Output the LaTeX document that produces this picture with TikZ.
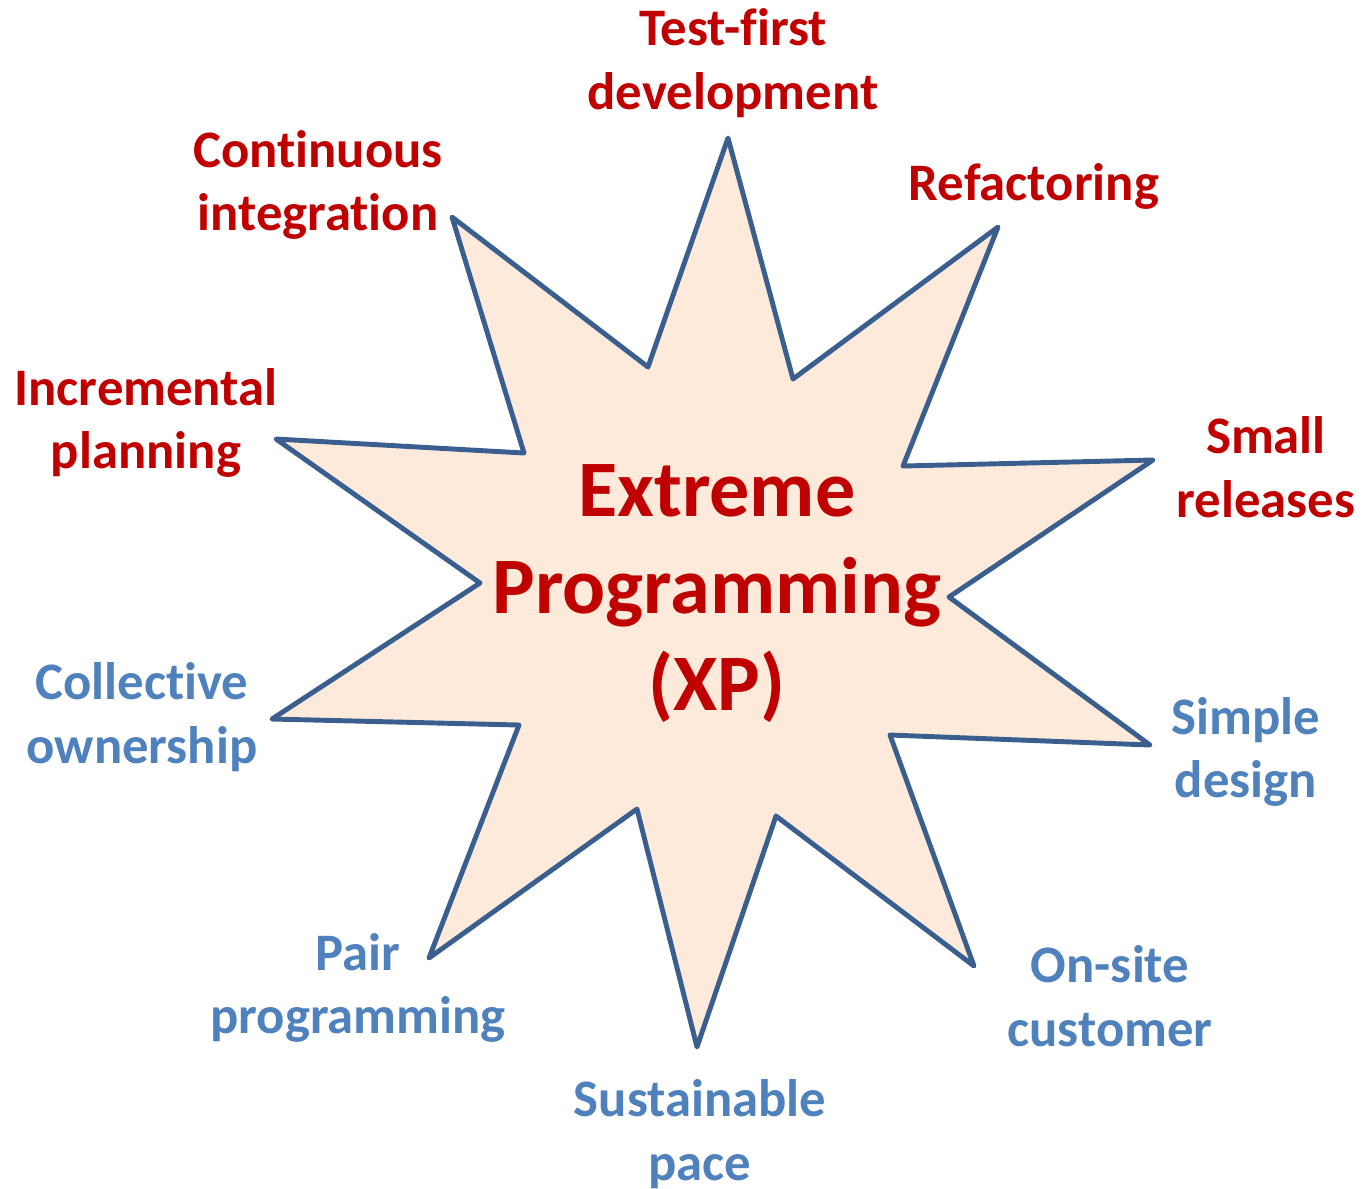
\documentclass[tikz,border=0pt]{standalone}
\usepackage{fontspec}
\setmainfont{Carlito}[Ligatures=NoCommon]
\definecolor{xpred}{HTML}{C00000}
\definecolor{xpblue}{HTML}{4F81BD}
\definecolor{xpline}{HTML}{3A5F8F}
\definecolor{xpfill}{HTML}{FDEADA}
\begin{document}
\begin{tikzpicture}[y=-1cm]
		\tikzset{practice/.style = {align=center,font=\fontsize{15}{18.1}\selectfont\bfseries,inner sep=0pt}}
		\tikzset{core/.style = {practice,text=xpred}}
		\tikzset{extra/.style = {practice,text=xpblue}}
		\useasboundingbox (0,0) rectangle (13.62,11.88);
		\draw[xpline,fill=xpfill,line width=1.4pt,line join=round] (7.28,1.38) -- (7.93,3.79) -- (9.98,2.27) -- (9.03,4.66) -- (11.53,4.60) -- (9.49,5.97) -- (11.50,7.45) -- (8.90,7.35) -- (9.74,9.66) -- (7.76,8.16) -- (6.97,10.47) -- (6.37,8.09) -- (4.29,9.58) -- (5.19,7.25) -- (2.72,7.19) -- (4.80,5.83) -- (2.76,4.39) -- (5.24,4.53) -- (4.52,2.17) -- (6.48,3.67) -- cycle;
		\node[align=center,font=\fontsize{22.8}{27.6}\selectfont\bfseries,text=xpred,inner sep=0pt] (xp) at (7.17,5.94) {Extreme\\Programming\\(XP)};
		\node[core] (test) at (7.33,0.63) {Test-first\\development};
		\node[core] (refactor) at (10.34,1.86) {Refactoring};
		\node[core] (small) at (12.66,4.67) {Small\\releases};
		\node[core] (cont) at (3.18,1.85) {Continuous\\integration};
		\node[core] (incr) at (1.46,4.23) {Incremental\\planning};
		\node[extra] (simple) at (12.46,7.52) {Simple\\design};
		\node[extra] (onsite) at (11.10,9.96) {On-site\\customer};
		\node[extra] (pace) at (7.00,11.34) {Sustainable\\pace};
		\node[extra] (pair) at (3.58,9.88) {Pair\\programming};
		\node[extra] (owner) at (1.42,7.17) {Collective\\ownership};
\end{tikzpicture}
\end{document}
